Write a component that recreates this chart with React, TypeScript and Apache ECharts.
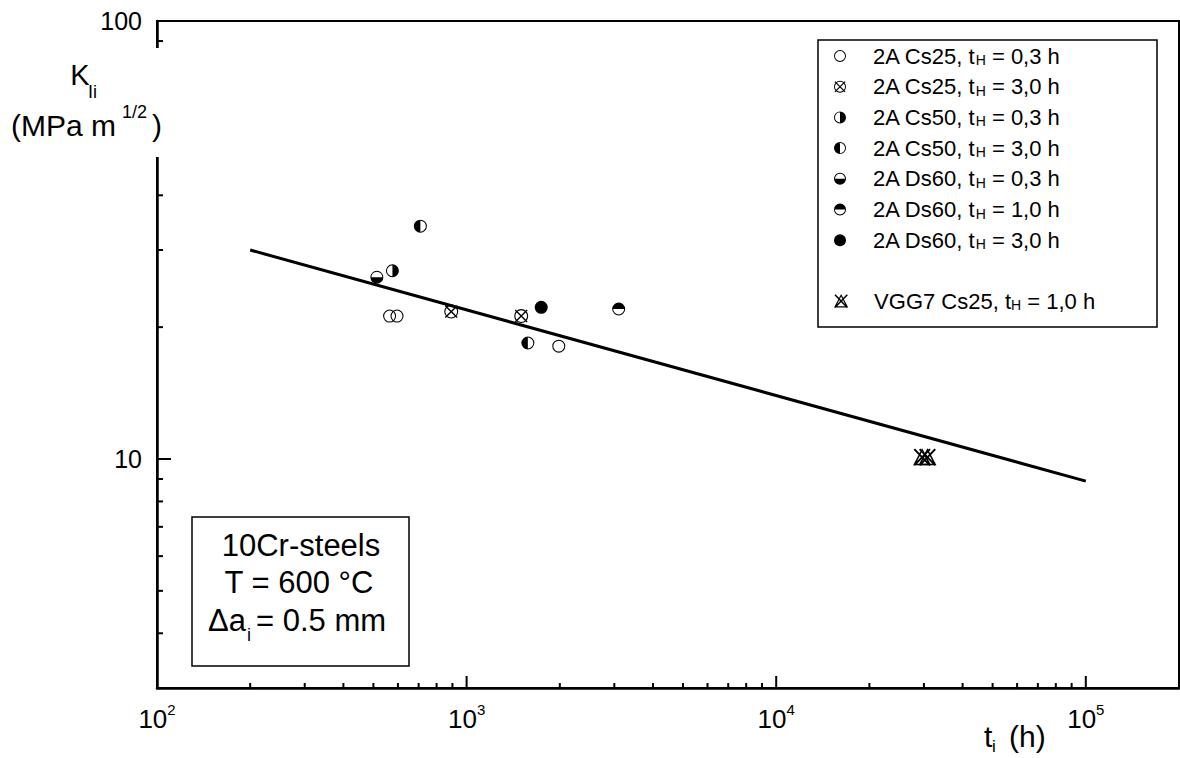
import React, { useEffect, useRef } from 'react';
import * as echarts from 'echarts';

// ---- axis ranges & ticks ----
const X_MIN = 100;
const X_MAX = 200000;
const Y_MIN = 3;
const Y_MAX = 100;
const xMajorTicks = [1000, 10000, 100000];
const xMinorTicks = [200, 300, 400, 500, 600, 700, 800, 900, 2000, 3000, 4000, 5000, 6000, 7000, 8000, 9000, 20000, 30000, 40000, 50000, 60000, 70000, 80000, 90000];
const yMajorTicks = [10];
const yMinorTicks = [4, 5, 6, 7, 8, 9, 20, 30, 40, 50, 60, 70, 80, 90];

// ---- data (t_i in h, K_Ii in MPa m^1/2) ----
const cs25_03 = [[564, 21.2], [596, 21.2], [1985, 18.1]];
const cs25_30 = [[892, 21.7], [1501, 21.2]];
const cs50_03 = [[576, 26.9]];
const cs50_30 = [[709, 34.0], [1577, 18.4]];
const ds60_03 = [[513, 26.0]];
const ds60_10 = [[3099, 22.0]];
const ds60_30 = [[1742, 22.2]];
const vgg7_10 = [[29600, 10.1], [30800, 10.1]];
const fitLine = [[200, 30.0], [100000, 8.9]];

const legendPrefix = ['2A Cs25, t', '2A Cs25, t', '2A Cs50, t', '2A Cs50, t', '2A Ds60, t', '2A Ds60, t', '2A Ds60, t', 'VGG7 Cs25, t'];
const legendSuffix = [' = 0,3 h', ' = 3,0 h', ' = 0,3 h', ' = 3,0 h', ' = 0,3 h', ' = 1,0 h', ' = 3,0 h', ' = 1,0 h'];

// ---- marker shapes (20x20 box) ----
const RING = 'M0,10 A10,10 0 1,1 20,10 A10,10 0 1,1 0,10 Z M1.6,10 A8.4,8.4 0 1,0 18.4,10 A8.4,8.4 0 1,0 1.6,10 Z';
const P_OPEN = 'path://' + RING;
const P_CROSS = 'path://' + RING + ' M0.8,2.2 L2.2,0.8 L19.2,17.8 L17.8,19.2 Z M17.8,0.8 L19.2,2.2 L2.2,19.2 L0.8,17.8 Z';
const P_RIGHT = 'path://' + RING + ' M10,0 A10,10 0 0,1 10,20 Z';
const P_LEFT = 'path://' + RING + ' M10,20 A10,10 0 0,1 10,0 Z';
const P_BOTTOM = 'path://' + RING + ' M20,10 A10,10 0 0,1 0,10 Z';
const P_TOP = 'path://' + RING + ' M0,10 A10,10 0 0,1 20,10 Z';
const P_FULL = 'path://M0,10 A10,10 0 1,1 20,10 A10,10 0 1,1 0,10 Z';
const P_VGG = 'path://M10,1 L19,18 L1,18 Z M10,4.3 L3.5,16.6 L16.5,16.6 Z M1.5,2.5 L2.9,1.3 L18.5,17.5 L17.1,18.7 Z M17.1,1.3 L18.5,2.5 L2.9,18.7 L1.5,17.5 Z';

const FONT = '"Liberation Sans", Arial, sans-serif';

const seriesData = [cs25_03, cs25_30, cs50_03, cs50_30, ds60_03, ds60_10, ds60_30, vgg7_10];
const seriesSymbols = [P_OPEN, P_CROSS, P_RIGHT, P_LEFT, P_BOTTOM, P_TOP, P_FULL, P_VGG];
const seriesSizes = [13, 14, 13, 13, 13, 13, 13, 18];

export default function App() {
  const ref = useRef<HTMLDivElement>(null);

  useEffect(() => {
    if (!ref.current) return;
    const chart = echarts.init(ref.current, undefined, { renderer: 'svg' });

    const names = legendPrefix.map((p, i) => p + 'H' + legendSuffix[i]);
    const richFor = (name: string) => {
      const i = names.indexOf(name);
      if (i < 0) return name;
      return `{n|${legendPrefix[i]}}{s|H}{n|${legendSuffix[i]}}`;
    };

    const tickData: number[][] = [
      ...xMajorTicks.map((v) => [v, Y_MIN, 0, 1]),
      ...xMinorTicks.map((v) => [v, Y_MIN, 0, 0]),
      ...yMajorTicks.map((v) => [X_MIN, v, 1, 1]),
      ...yMinorTicks.map((v) => [X_MIN, v, 1, 0]),
    ];

    const legendText = {
      color: '#000',
      fontFamily: FONT,
      fontSize: 22,
      rich: {
        n: { fontSize: 22, fontFamily: FONT, color: '#000', lineHeight: 22, verticalAlign: 'top' },
        s: { fontSize: 14, fontFamily: FONT, color: '#000', lineHeight: 14, padding: [15, 0, 0, 0], verticalAlign: 'bottom' },
      },
    };

    const scatterSeries = names.map((name, i) => ({
      name,
      type: 'scatter',
      data: seriesData[i],
      symbol: seriesSymbols[i],
      symbolSize: seriesSizes[i],
      symbolKeepAspect: true,
      itemStyle: { color: '#000', borderWidth: 0, opacity: 1 },
      z: 5,
      silent: true,
    }));

    const txt = (text: string, x: number, y: number, size: number, align: string, z = 10) => ({
      type: 'text',
      z,
      style: {
        text, x, y,
        fill: '#000',
        fontSize: size,
        fontFamily: FONT,
        align, textAlign: align,
        verticalAlign: 'middle', textVerticalAlign: 'middle',
      },
    });

    const option: any = {
      animation: false,
      backgroundColor: '#fff',
      grid: { left: 157, top: 21, width: 1022, height: 667, show: true, borderColor: '#000', borderWidth: 2, backgroundColor: 'transparent' },
      xAxis: {
        type: 'log',
        logBase: 10,
        min: X_MIN,
        max: X_MAX,
        axisLine: { lineStyle: { color: '#000', width: 2.5 } },
        axisTick: { show: false },
        minorTick: { show: false },
        splitLine: { show: false },
        axisLabel: {
          margin: 14,
          showMaxLabel: false,
          color: '#000',
          fontSize: 26,
          fontFamily: FONT,
          formatter: (v: number) => {
            const e = Math.log10(v);
            if (Math.abs(e - Math.round(e)) > 1e-6) return '';
            return `{b|10}{sup|${Math.round(e)}}`;
          },
          rich: {
            b: { fontSize: 26, fontFamily: FONT, color: '#000', lineHeight: 34 },
            sup: { fontSize: 15, fontFamily: FONT, color: '#000', lineHeight: 20, verticalAlign: 'top' },
          },
        },
      },
      yAxis: {
        type: 'log',
        logBase: 10,
        min: Y_MIN,
        max: Y_MAX,
        axisLine: { lineStyle: { color: '#000', width: 2.5 } },
        axisTick: { show: false },
        minorTick: { show: false },
        splitLine: { show: false },
        axisLabel: {
          margin: 15,
          color: '#000',
          fontSize: 25,
          fontFamily: FONT,
          formatter: (v: number) => {
            if (Math.abs(v - 10) < 1e-6 || Math.abs(v - 100) < 1e-6) return String(Math.round(v));
            return '';
          },
        },
      },
      legend: [
        {
          data: names.slice(0, 7).map((n, i) => ({ name: n, icon: seriesSymbols[i] })),
          orient: 'vertical',
          left: 834,
          top: 38,
          padding: 0,
          itemWidth: 56,
          itemHeight: 12,
          itemGap: 1.7,
          selectedMode: false,
          formatter: richFor,
          textStyle: legendText,
        },
        {
          data: [{ name: names[7], icon: seriesSymbols[7] }],
          orient: 'vertical',
          left: 834,
          top: 283,
          padding: 0,
          itemWidth: 56,
          itemHeight: 14,
          itemGap: 0,
          selectedMode: false,
          formatter: richFor,
          textStyle: legendText,
        },
      ],
      series: [
        {
          type: 'custom',
          silent: true,
          dimensions: ['x', 'y', 'axis', 'major'],
          encode: { x: 0, y: 1 },
          data: tickData,
          z: 3,
          renderItem: (params: any, api: any) => {
            const p = api.coord([api.value(0), api.value(1)]);
            const major = api.value(3) === 1;
            if (api.value(2) === 0) {
              const len = major ? 12 : 5;
              return { type: 'line', shape: { x1: p[0], y1: p[1], x2: p[0], y2: p[1] - len }, style: { stroke: '#000', lineWidth: 2 } };
            }
            const len = major ? 14 : 6;
            return { type: 'line', shape: { x1: p[0], y1: p[1], x2: p[0] + len, y2: p[1] }, style: { stroke: '#000', lineWidth: 2 } };
          },
        },
        {
          type: 'line',
          data: fitLine,
          symbol: 'none',
          lineStyle: { color: '#000', width: 3 },
          z: 4,
          silent: true,
        },
        ...scatterSeries,
      ],
      graphic: [
        { type: 'rect', z: 5, shape: { x: 818, y: 40, width: 339, height: 287 }, style: { fill: 'none', stroke: '#000', lineWidth: 1.5 } },
        { type: 'rect', z: 5, shape: { x: 192, y: 517, width: 217, height: 149 }, style: { fill: '#fff', stroke: '#000', lineWidth: 1.5 } },
        txt('10Cr-steels', 301, 545, 31, 'center'),
        txt('T = 600 °C', 299, 582, 31, 'center'),
        txt('Δa', 246, 620, 31, 'right'),
        txt('i', 247, 635, 18, 'left'),
        txt('= 0.5 mm', 256, 620, 31, 'left'),
        { type: 'rect', z: 100, shape: { x: 148, y: 48, width: 20, height: 109 }, style: { fill: '#fff', stroke: 'none' } },
        txt('K', 80, 75, 29, 'center', 101),
        txt('Ii', 88, 92, 18, 'left', 101),
        txt('(MPa m', 11, 125, 30, 'left', 101),
        txt('1/2', 122, 112, 18, 'left', 101),
        txt(')', 152, 125, 30, 'left', 101),
        txt('t', 984, 736, 30, 'left', 101),
        txt('i', 992, 746, 17, 'left', 101),
        txt('(h)', 1009, 736, 30, 'left', 101),
      ],
    };

    chart.setOption(option);
    return () => chart.dispose();
  }, []);

  return <div ref={ref} style={{ position: 'fixed', left: 0, top: 0, width: 1180, height: 758, background: '#fff' }} />;
}
